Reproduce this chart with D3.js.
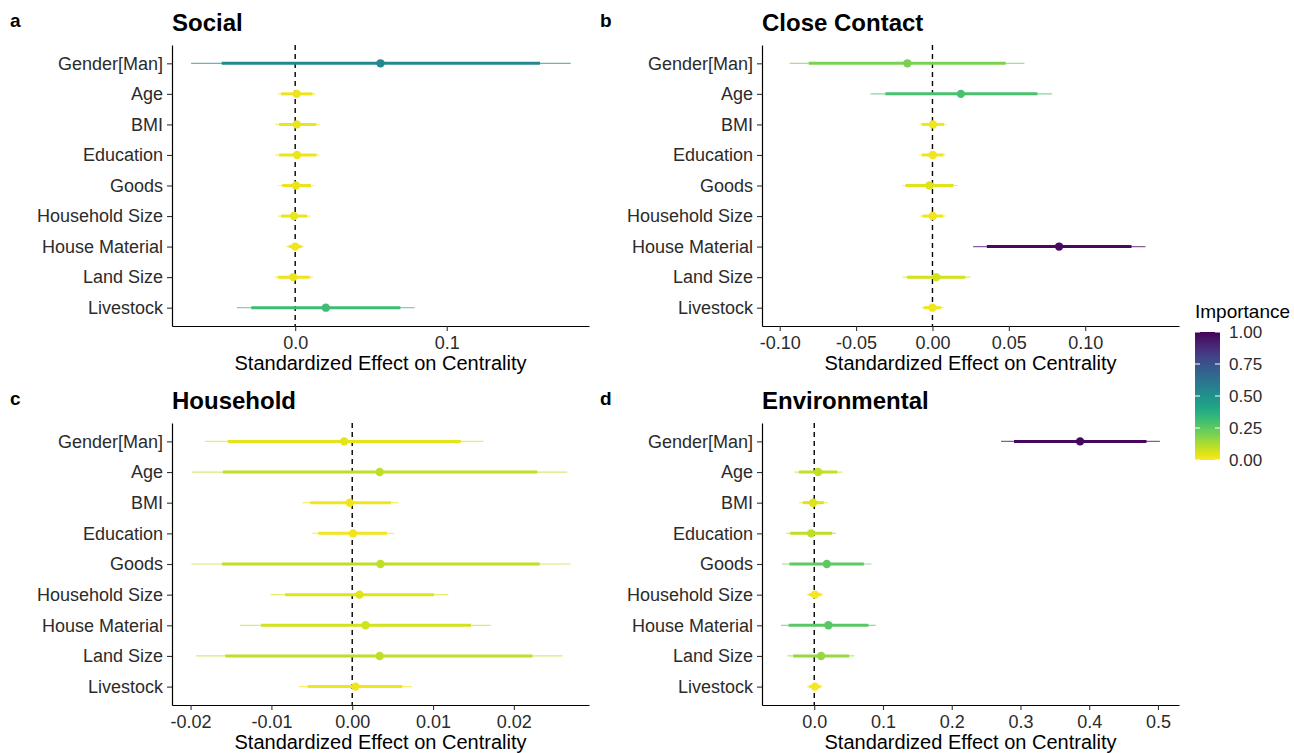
<!DOCTYPE html>
<html lang="en">

<head>
	<meta charset="utf-8">
	<title>Standardized Effect on Centrality</title>
	<script src="https://d3js.org/d3.v7.min.js"></script>
	<style type="text/css">
		body {
			margin: 0;
			background: #ffffff;
		}
		svg text {
			font-family: "Liberation Sans", Arial, Helvetica, sans-serif;
		}
	</style>
</head>

<body>
	<script type="text/javascript">

		//Width and height
		let w = 1294;
		let h = 753;

		let predictors = ["Gender[Man]", "Age", "BMI", "Education", "Goods", "Household Size", "House Material", "Land Size", "Livestock"];

		//Social network: thin interval (lo/hi), thick interval (loIn/hiIn), point estimate and importance
		let socialLo   = [-0.0687, -0.0114, -0.0130, -0.0130, -0.0110, -0.0114, -0.0058, -0.0136, -0.0384];
		let socialLoIn = [-0.0485, -0.0093, -0.0106, -0.0106, -0.0086, -0.0093, -0.0043, -0.0114, -0.0290];
		let socialEst  = [0.0563, 0.0010, 0.0010, 0.0012, 0.0005, -0.0008, 0.0000, -0.0013, 0.0202];
		let socialHiIn = [0.1616, 0.0114, 0.0139, 0.0139, 0.0104, 0.0078, 0.0043, 0.0096, 0.0694];
		let socialHi   = [0.1818, 0.0134, 0.0160, 0.0160, 0.0126, 0.0098, 0.0058, 0.0116, 0.0788];
		let socialImp  = [0.53, 0.03, 0.03, 0.03, 0.03, 0.03, 0.02, 0.03, 0.31];

		//Close contact network
		let contactLo   = [-0.0935, -0.0406, -0.0085, -0.0087, -0.0196, -0.0080, 0.0266, -0.0196, -0.0070];
		let contactLoIn = [-0.0810, -0.0308, -0.0070, -0.0070, -0.0176, -0.0065, 0.0356, -0.0166, -0.0058];
		let contactEst  = [-0.0164, 0.0186, 0.0003, 0.0002, -0.0020, 0.0002, 0.0829, 0.0025, 0.0000];
		let contactHiIn = [0.0479, 0.0687, 0.0075, 0.0072, 0.0138, 0.0070, 0.1303, 0.0216, 0.0055];
		let contactHi   = [0.0602, 0.0783, 0.0090, 0.0088, 0.0166, 0.0085, 0.1395, 0.0250, 0.0073];
		let contactImp  = [0.20, 0.29, 0.02, 0.02, 0.05, 0.02, 0.97, 0.07, 0.02];

		//Household network
		let houseLo   = [-0.01825, -0.0198, -0.00615, -0.0050, -0.0199, -0.0101, -0.0139, -0.0193, -0.0066];
		let houseLoIn = [-0.0154, -0.0160, -0.0052, -0.0042, -0.0161, -0.0083, -0.0113, -0.0157, -0.0055];
		let houseEst  = [-0.0010, 0.0034, -0.0003, 0.0001, 0.0035, 0.0009, 0.00165, 0.0034, 0.0004];
		let houseHiIn = [0.01343, 0.0229, 0.0048, 0.0043, 0.0232, 0.0101, 0.0147, 0.0223, 0.0062];
		let houseHi   = [0.01626, 0.0266, 0.0057, 0.0052, 0.0270, 0.0119, 0.0172, 0.0260, 0.0074];
		let houseImp  = [0.04, 0.10, 0.02, 0.02, 0.10, 0.05, 0.07, 0.10, 0.02];

		//Environmental network
		let envLo   = [0.2717, -0.0289, -0.0217, -0.0406, -0.0472, -0.0106, -0.0483, -0.0389, -0.0106];
		let envLoIn = [0.2906, -0.0222, -0.0167, -0.0350, -0.0361, -0.0083, -0.0372, -0.0306, -0.0078];
		let envEst  = [0.3867, 0.0056, -0.0017, -0.0044, 0.0183, 0.0010, 0.0206, 0.0100, 0.0010];
		let envHiIn = [0.4833, 0.0333, 0.0139, 0.0261, 0.0722, 0.0106, 0.0789, 0.0506, 0.0094];
		let envHi   = [0.5028, 0.0406, 0.0194, 0.0317, 0.0833, 0.0128, 0.0894, 0.0583, 0.0122];
		let envImp  = [0.98, 0.09, 0.05, 0.10, 0.25, 0.01, 0.26, 0.16, 0.01];

		//Axis ticks
		let socialTicks = [0, 0.1];
		let contactTicks = [-0.10, -0.05, 0, 0.05, 0.10];
		let houseTicks = [-0.02, -0.01, 0, 0.01, 0.02];
		let envTicks = [0, 0.1, 0.2, 0.3, 0.4, 0.5];
		let legendTicks = [0, 0.25, 0.5, 0.75, 1];

		//hyphen minus like the original figure
		let locale = d3.formatLocale({ decimal: ".", thousands: ",", grouping: [3], currency: ["", ""], minus: "-" });

		let panels = [
			{ letter: "a", title: "Social", lo: socialLo, loIn: socialLoIn, est: socialEst, hiIn: socialHiIn, hi: socialHi, imp: socialImp,
				domain: [-0.0813, 0.1939], ticks: socialTicks, fmt: ".1f", left: 172, right: 589, top: 45, bottom: 326 },
			{ letter: "b", title: "Close Contact", lo: contactLo, loIn: contactLoIn, est: contactEst, hiIn: contactHiIn, hi: contactHi, imp: contactImp,
				domain: [-0.1116, 0.1614], ticks: contactTicks, fmt: ".2f", left: 762, right: 1179, top: 45, bottom: 326 },
			{ letter: "c", title: "Household", lo: houseLo, loIn: houseLoIn, est: houseEst, hiIn: houseHiIn, hi: houseHi, imp: houseImp,
				domain: [-0.0223, 0.0293], ticks: houseTicks, fmt: ".2f", left: 172, right: 589, top: 423, bottom: 705 },
			{ letter: "d", title: "Environmental", lo: envLo, loIn: envLoIn, est: envEst, hiIn: envHiIn, hi: envHi, imp: envImp,
				domain: [-0.0760, 0.5306], ticks: envTicks, fmt: ".1f", left: 762, right: 1179, top: 423, bottom: 705 }
		];

		//importance 1 is dark purple, 0 is yellow
		let colorOf = function (v) {
			return d3.interpolateViridis(1 - v);
		};

		//Create SVG element
		let svg = d3.select("body")
			.append("svg")
			.attr("width", w)
			.attr("height", h);

		panels.forEach(function (p) {

			let rows = predictors.map(function (name, i) {
				return { name: name, lo: p.lo[i], loIn: p.loIn[i], est: p.est[i], hiIn: p.hiIn[i], hi: p.hi[i], imp: p.imp[i] };
			});

			let xScale = d3.scaleLinear()
				.domain(p.domain)
				.range([p.left, p.right]);

			let yScale = d3.scalePoint()
				.domain(predictors)
				.range([p.top, p.bottom])
				.padding(0.6);

			let g = svg.append("g");

			//zero line
			g.append("line")
				.attr("x1", xScale(0))
				.attr("x2", xScale(0))
				.attr("y1", p.top)
				.attr("y2", p.bottom)
				.attr("stroke", "black")
				.attr("stroke-width", 1.4)
				.attr("stroke-dasharray", "5,4");

			//outer interval
			g.selectAll("line.outer")
				.data(rows)
				.enter()
				.append("line")
				.attr("class", "outer")
				.attr("x1", function (d) { return xScale(d.lo); })
				.attr("x2", function (d) { return xScale(d.hi); })
				.attr("y1", function (d) { return yScale(d.name); })
				.attr("y2", function (d) { return yScale(d.name); })
				.attr("stroke", function (d) { return colorOf(d.imp); })
				.attr("stroke-opacity", 0.65)
				.attr("stroke-width", 1.2);

			//inner interval
			g.selectAll("line.inner")
				.data(rows)
				.enter()
				.append("line")
				.attr("class", "inner")
				.attr("x1", function (d) { return xScale(d.loIn); })
				.attr("x2", function (d) { return xScale(d.hiIn); })
				.attr("y1", function (d) { return yScale(d.name); })
				.attr("y2", function (d) { return yScale(d.name); })
				.attr("stroke", function (d) { return colorOf(d.imp); })
				.attr("stroke-width", 3);

			//point estimates
			g.selectAll("circle")
				.data(rows)
				.enter()
				.append("circle")
				.attr("cx", function (d) { return xScale(d.est); })
				.attr("cy", function (d) { return yScale(d.name); })
				.attr("r", 4.2)
				.attr("fill", function (d) { return colorOf(d.imp); });

			// create x axis
			let xAxis = g.append("g")
				.attr("transform", "translate(0," + p.bottom + ")")
				.call(d3.axisBottom(xScale)
					.tickValues(p.ticks)
					.tickFormat(locale.format(p.fmt))
					.tickSize(5)
					.tickPadding(5)
					.tickSizeOuter(0));

			// create y axis
			let yAxis = g.append("g")
				.attr("transform", "translate(" + p.left + ",0)")
				.call(d3.axisLeft(yScale)
					.tickSize(5)
					.tickPadding(4)
					.tickSizeOuter(0));

			[xAxis, yAxis].forEach(function (ax) {
				ax.select(".domain")
					.attr("stroke", "black")
					.attr("stroke-width", 1.2);
				ax.selectAll(".tick line")
					.attr("stroke", "#333333")
					.attr("stroke-width", 1.1);
				ax.selectAll(".tick text")
					.attr("font-size", "18px")
					.attr("fill", "#2b2b2b");
			});

			//x axis title
			g.append("text")
				.attr("x", (p.left + p.right) / 2)
				.attr("y", p.bottom + 44)
				.attr("text-anchor", "middle")
				.attr("font-size", "20px")
				.attr("fill", "black")
				.text("Standardized Effect on Centrality");

			//panel title and letter
			g.append("text")
				.attr("x", p.left)
				.attr("y", p.top - 14)
				.attr("font-size", "24px")
				.attr("font-weight", "bold")
				.attr("fill", "black")
				.text(p.title);

			g.append("text")
				.attr("x", p.left - 162)
				.attr("y", p.top - 18)
				.attr("font-size", "19px")
				.attr("font-weight", "bold")
				.attr("fill", "black")
				.text(p.letter);
		});

		//Legend colour bar
		let legX = 1195;
		let legW = 25;
		let legScale = d3.scaleLinear()
			.domain([0, 1])
			.range([460, 332]);

		let grad = svg.append("defs")
			.append("linearGradient")
			.attr("id", "viridisGrad")
			.attr("x1", "0%").attr("y1", "100%")
			.attr("x2", "0%").attr("y2", "0%");

		grad.selectAll("stop")
			.data(d3.range(0, 1.0001, 0.05))
			.enter()
			.append("stop")
			.attr("offset", function (d) { return (d * 100) + "%"; })
			.attr("stop-color", function (d) { return colorOf(d); });

		svg.append("rect")
			.attr("x", legX)
			.attr("y", legScale(1))
			.attr("width", legW)
			.attr("height", legScale(0) - legScale(1))
			.attr("fill", "url(#viridisGrad)");

		//little white ticks on both sides of the bar
		legendTicks.forEach(function (t) {
			svg.append("line")
				.attr("x1", legX).attr("x2", legX + 5)
				.attr("y1", legScale(t)).attr("y2", legScale(t))
				.attr("stroke", "white").attr("stroke-width", 1);
			svg.append("line")
				.attr("x1", legX + legW - 5).attr("x2", legX + legW)
				.attr("y1", legScale(t)).attr("y2", legScale(t))
				.attr("stroke", "white").attr("stroke-width", 1);
		});

		svg.selectAll("text.leg")
			.data(legendTicks)
			.enter()
			.append("text")
			.attr("class", "leg")
			.attr("x", legX + legW + 9)
			.attr("y", function (d) { return legScale(d); })
			.attr("dy", "0.36em")
			.attr("font-size", "17px")
			.attr("fill", "#2b2b2b")
			.text(function (d) { return d3.format(".2f")(d); });

		svg.append("text")
			.attr("x", legX)
			.attr("y", 318)
			.attr("font-size", "19px")
			.attr("fill", "black")
			.text("Importance");

	</script>
</body>

</html>
